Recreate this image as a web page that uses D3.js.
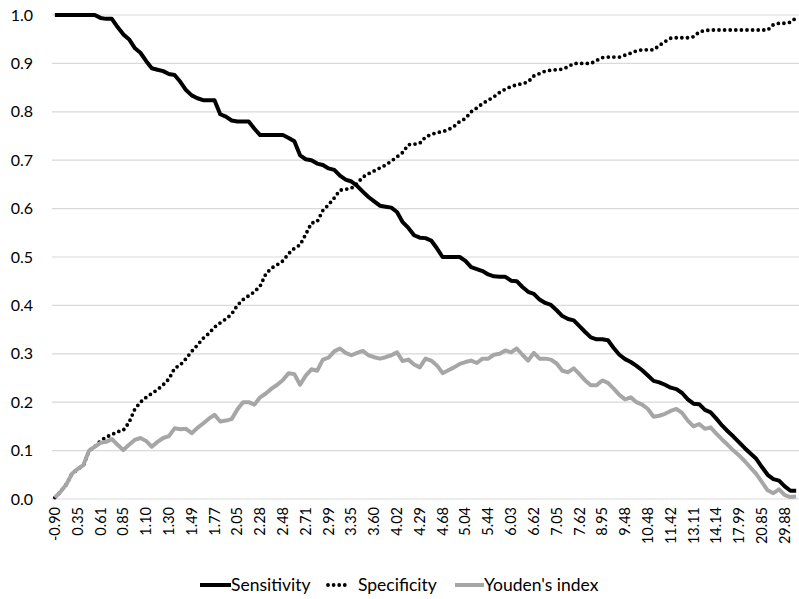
<!DOCTYPE html>
<html>
<head>
<meta charset="utf-8">
<script src="https://cdn.jsdelivr.net/npm/d3@7"></script>
<style>
	body { margin: 0; background: #fff; }
	svg text { font-family: Lato, "Open Sans", sans-serif; fill: #000; }
</style>
</head>
<body>
<svg id="chart" width="799" height="599"></svg>
<script>

// tick labels, shown on every 4th cut-off
let tickLabels = ['-0.90', '0.35', '0.61', '0.85', '1.10', '1.30', '1.49', '1.77', '2.05', '2.28', '2.48',
	'2.71', '2.99', '3.35', '3.60', '4.02', '4.29', '4.68', '5.04', '5.44', '6.03', '6.62', '7.05', '7.62',
	'8.95', '9.48', '10.48', '11.42', '13.11', '14.14', '17.99', '20.85', '29.88'];
let labelEvery = 4;

let sensitivity = [
	1.0, 1.0, 1.0, 1.0, 1.0, 1.0, 1.0, 1.0, 0.994, 0.992,
	0.992, 0.975, 0.96, 0.95, 0.932, 0.922, 0.905, 0.89, 0.887, 0.884,
	0.878, 0.876, 0.862, 0.845, 0.834, 0.828, 0.824, 0.824, 0.824, 0.795,
	0.79, 0.782, 0.78, 0.78, 0.78, 0.765, 0.752, 0.752, 0.752, 0.752,
	0.752, 0.746, 0.739, 0.71, 0.702, 0.70, 0.693, 0.69, 0.683, 0.68,
	0.668, 0.66, 0.656, 0.647, 0.635, 0.624, 0.615, 0.606, 0.604, 0.602,
	0.593, 0.572, 0.56, 0.545, 0.54, 0.539, 0.534, 0.518, 0.5, 0.5,
	0.5, 0.5, 0.492, 0.479, 0.475, 0.471, 0.464, 0.46, 0.459, 0.459,
	0.451, 0.45, 0.438, 0.428, 0.424, 0.412, 0.405, 0.401, 0.39, 0.378,
	0.372, 0.369, 0.357, 0.345, 0.334, 0.33, 0.33, 0.328, 0.312, 0.298,
	0.289, 0.283, 0.275, 0.266, 0.255, 0.244, 0.241, 0.236, 0.23, 0.227,
	0.219, 0.206, 0.197, 0.196, 0.184, 0.179, 0.166, 0.152, 0.14, 0.129,
	0.117, 0.105, 0.094, 0.083, 0.066, 0.05, 0.041, 0.038, 0.026, 0.017,
	0.017
];

let specificity = [
	0.003, 0.015, 0.03, 0.052, 0.062, 0.07, 0.1, 0.108, 0.12, 0.128,
	0.133, 0.139, 0.142, 0.158, 0.185, 0.2, 0.21, 0.218, 0.226, 0.236,
	0.248, 0.27, 0.277, 0.29, 0.305, 0.318, 0.332, 0.342, 0.355, 0.364,
	0.372, 0.382, 0.4, 0.412, 0.42, 0.428, 0.44, 0.465, 0.477, 0.484,
	0.492, 0.507, 0.518, 0.525, 0.547, 0.57, 0.573, 0.596, 0.608, 0.622,
	0.638, 0.64, 0.642, 0.652, 0.665, 0.672, 0.678, 0.684, 0.69, 0.698,
	0.707, 0.716, 0.732, 0.733, 0.735, 0.748, 0.753, 0.757, 0.759, 0.763,
	0.77, 0.78, 0.786, 0.8, 0.808, 0.817, 0.824, 0.831, 0.84, 0.847,
	0.852, 0.856, 0.858, 0.862, 0.874, 0.879, 0.884, 0.886, 0.887, 0.888,
	0.893, 0.9, 0.9, 0.9, 0.9, 0.906, 0.912, 0.913, 0.913, 0.913,
	0.917, 0.921, 0.926, 0.928, 0.928, 0.928, 0.937, 0.945, 0.952, 0.953,
	0.953, 0.953, 0.955, 0.965, 0.968, 0.969, 0.969, 0.969, 0.969, 0.969,
	0.969, 0.969, 0.969, 0.969, 0.969, 0.969, 0.98, 0.983, 0.983, 0.985,
	0.994
];

let youden = [
	0.003, 0.015, 0.03, 0.052, 0.062, 0.07, 0.1, 0.108, 0.116, 0.118,
	0.124, 0.112, 0.101, 0.112, 0.122, 0.126, 0.12, 0.108, 0.118, 0.126,
	0.13, 0.146, 0.144, 0.145, 0.136, 0.147, 0.156, 0.166, 0.174, 0.16,
	0.162, 0.165, 0.185, 0.2, 0.2, 0.195, 0.21, 0.218, 0.228, 0.236,
	0.246, 0.26, 0.258, 0.236, 0.255, 0.268, 0.265, 0.288, 0.292, 0.305,
	0.311, 0.302, 0.297, 0.302, 0.306, 0.297, 0.293, 0.29, 0.293, 0.297,
	0.303, 0.285, 0.288, 0.278, 0.272, 0.29, 0.286, 0.276, 0.26, 0.266,
	0.272, 0.279, 0.283, 0.286, 0.281, 0.29, 0.29, 0.298, 0.3, 0.307,
	0.303, 0.311, 0.298, 0.286, 0.302, 0.29, 0.29, 0.288, 0.28, 0.265,
	0.262, 0.27, 0.258, 0.245, 0.235, 0.235, 0.245, 0.24, 0.228, 0.215,
	0.206, 0.21, 0.2, 0.195, 0.186, 0.17, 0.172, 0.176, 0.182, 0.186,
	0.178, 0.162, 0.15, 0.155, 0.145, 0.148, 0.135, 0.123, 0.112, 0.1,
	0.09, 0.078, 0.065, 0.052, 0.035, 0.018, 0.012, 0.02, 0.008, 0.004,
	0.005
];

let yTicks = [0, 0.1, 0.2, 0.3, 0.4, 0.5, 0.6, 0.7, 0.8, 0.9, 1.0];

let series = [
	{name: 'Sensitivity', values: sensitivity, color: '#000', width: 4, dash: null},
	{name: 'Specificity', values: specificity, color: '#000', width: 3.8, dash: '0,5.6'},
	{name: "Youden's index", values: youden, color: '#a6a6a6', width: 4, dash: null}
];

let svg = d3.select('#chart');
let n = sensitivity.length;

let x = d3.scaleBand()
	.domain(d3.range(n))
	.range([52, 799]);
let xc = i => x(i) + x.bandwidth() / 2;

let y = d3.scaleLinear()
	.domain([0, 1])
	.range([499, 15]);

// grid lines
svg.append('g')
	.selectAll('line')
	.data(yTicks)
	.join('line')
	.attr('x1', 52)
	.attr('x2', 799)
	.attr('y1', d => y(d))
	.attr('y2', d => y(d))
	.attr('stroke', '#d9d9d9')
	.attr('stroke-width', 1.2);

// y axis labels
let yAxis = d3.axisLeft(y)
	.tickValues(yTicks)
	.tickFormat(d3.format('.1f'))
	.tickSize(0)
	.tickPadding(0);
let gy = svg.append('g')
	.attr('transform', 'translate(33,0)')
	.call(yAxis);
gy.select('.domain').remove();
gy.selectAll('text')
	.attr('font-size', 16)
	.attr('font-family', 'Lato, sans-serif');

// x axis labels
let labelIdx = tickLabels.map((t, k) => k * labelEvery);
let xAxis = d3.axisBottom(x)
	.tickValues(labelIdx)
	.tickFormat(i => tickLabels[i / labelEvery])
	.tickSize(0)
	.tickPadding(0);
let gx = svg.append('g')
	.attr('transform', 'translate(0,507)')
	.call(xAxis);
gx.select('.domain').remove();
gx.selectAll('text')
	.attr('font-size', 14.5)
	.attr('font-family', 'Lato, sans-serif')
	.attr('transform', 'rotate(-90)')
	.attr('text-anchor', 'end')
	.attr('dy', '0.35em')
	.attr('x', 0)
	.attr('y', 0);

// lines
let line = d3.line()
	.x((d, i) => xc(i))
	.y(d => y(d));

for (let s of series) {
	svg.append('path')
		.datum(s.values)
		.attr('d', line)
		.attr('fill', 'none')
		.attr('stroke', s.color)
		.attr('stroke-width', s.width)
		.attr('stroke-linejoin', 'round')
		.attr('stroke-linecap', s.dash ? 'round' : 'butt')
		.attr('stroke-dasharray', s.dash);
}

// legend
let legendX = [200, 328, 455];
let legendW = [31, 20, 29];
let legend = svg.append('g')
	.selectAll('g')
	.data(series)
	.join('g')
	.attr('transform', (d, i) => `translate(${legendX[i]},585)`);
legend.append('line')
	.attr('x1', 0)
	.attr('x2', (d, i) => legendW[i])
	.attr('y1', 0)
	.attr('y2', 0)
	.attr('stroke', d => d.color)
	.attr('stroke-width', d => d.width)
	.attr('stroke-linecap', d => d.dash ? 'round' : 'butt')
	.attr('stroke-dasharray', d => d.dash);
legend.append('text')
	.attr('x', (d, i) => legendW[i] + (d.dash ? 10 : 0))
	.attr('y', 0)
	.attr('dy', '0.35em')
	.attr('font-size', 17.5)
	.text(d => d.name);

</script>
</body>
</html>
